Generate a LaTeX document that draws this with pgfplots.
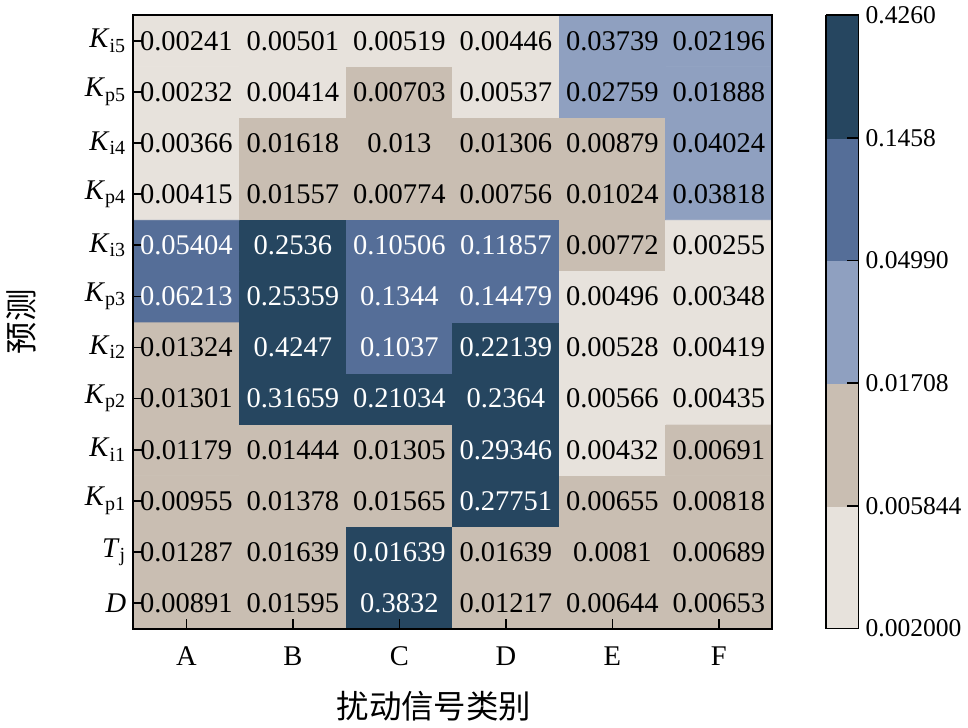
\documentclass[border=0pt]{standalone}
\usepackage{fontspec}
\setmainfont{Liberation Serif}
\newfontfamily\cjk{Noto Sans CJK SC}
\usepackage{pgfplots}
\usepackage{pgfplotstable}
\pgfplotsset{compat=1.18}

\pgfplotstableread{
x y c v
0 0 1 0.00891
1 0 1 0.01595
2 0 4 0.3832
3 0 1 0.01217
4 0 1 0.00644
5 0 1 0.00653
0 1 1 0.01287
1 1 1 0.01639
2 1 4 0.01639
3 1 1 0.01639
4 1 1 0.0081
5 1 1 0.00689
0 2 1 0.00955
1 2 1 0.01378
2 2 1 0.01565
3 2 4 0.27751
4 2 1 0.00655
5 2 1 0.00818
0 3 1 0.01179
1 3 1 0.01444
2 3 1 0.01305
3 3 4 0.29346
4 3 0 0.00432
5 3 1 0.00691
0 4 1 0.01301
1 4 4 0.31659
2 4 4 0.21034
3 4 4 0.2364
4 4 0 0.00566
5 4 0 0.00435
0 5 1 0.01324
1 5 4 0.4247
2 5 3 0.1037
3 5 4 0.22139
4 5 0 0.00528
5 5 0 0.00419
0 6 3 0.06213
1 6 4 0.25359
2 6 3 0.1344
3 6 3 0.14479
4 6 0 0.00496
5 6 0 0.00348
0 7 3 0.05404
1 7 4 0.2536
2 7 3 0.10506
3 7 3 0.11857
4 7 1 0.00772
5 7 0 0.00255
0 8 0 0.00415
1 8 1 0.01557
2 8 1 0.00774
3 8 1 0.00756
4 8 1 0.01024
5 8 2 0.03818
0 9 0 0.00366
1 9 1 0.01618
2 9 1 0.013
3 9 1 0.01306
4 9 1 0.00879
5 9 2 0.04024
0 10 0 0.00232
1 10 0 0.00414
2 10 1 0.00703
3 10 0 0.00537
4 10 2 0.02759
5 10 2 0.01888
0 11 0 0.00241
1 11 0 0.00501
2 11 0 0.00519
3 11 0 0.00446
4 11 2 0.03739
5 11 2 0.02196
}\datatable

\begin{document}
\begin{tikzpicture}
\begin{axis}[
  scale only axis,
  width=325pt, height=312pt,
  xmin=-0.5, xmax=5.5, ymin=-0.5, ymax=11.5,
  enlargelimits=false,
  axis on top,
  axis line style={line width=0.9pt},
  xtick={0,...,5},
  xticklabels={A,B,C,D,E,F},
  ytick={0,...,11},
  yticklabels={\textit{D},\textit{T}\textsubscript{j},\textit{K}\textsubscript{p1},\textit{K}\textsubscript{i1},\textit{K}\textsubscript{p2},\textit{K}\textsubscript{i2},\textit{K}\textsubscript{p3},\textit{K}\textsubscript{i3},\textit{K}\textsubscript{p4},\textit{K}\textsubscript{i4},\textit{K}\textsubscript{p5},\textit{K}\textsubscript{i5}},
  xtick pos=lower, ytick pos=left,
  tick align=inside,
  major tick length=5pt,
  tick style={black, line width=0.8pt},
  ticklabel style={font=\fontsize{14.5}{17}\selectfont},
  xticklabel style={yshift=-5.5pt},
  every axis y label/.style={at={(axis description cs:-0.175,0.5)}, rotate=90, anchor=center},
  every axis x label/.style={at={(axis description cs:0.5,0)}, anchor=center, yshift=-39.5pt, xshift=-9.5pt},
  xlabel={\cjk\fontsize{16.5}{19}\selectfont 扰动信号类别},
  ylabel={\cjk\fontsize{16.5}{19}\selectfont 预测},
  colormap={disc}{rgb255=(231,226,220) rgb255=(201,190,178) rgb255=(143,160,192) rgb255=(85,110,152) rgb255=(38,70,96)},
  colormap access=piecewise constant,
  point meta min=0, point meta max=5,
  colorbar sampled,
  colorbar style={
    samples=6,
    at={(parent axis.north east)}, anchor=north west, xshift=19pt,
    width=16.5pt,
    axis line style={line width=0.8pt},
    ytick={0,...,5},
    yticklabels={0.002000,0.005844,0.01708,0.04990,0.1458,0.4260},
    ytick pos=right, yticklabel pos=right,
    tick align=inside,
    major tick length=6pt,
    tick style={black, line width=0.8pt},
    yticklabel style={font=\fontsize{13}{15}\selectfont},
  },
]
\addplot[matrix plot*, mesh/cols=6, mesh/rows=12, point meta=explicit] table[x=x, y=y, meta expr=\thisrow{c}+0.5] {\datatable};
\addplot[draw=none, point meta=explicit symbolic,
  visualization depends on={\thisrow{c}\as\cls},
  nodes near coords={\ifdim\cls pt>2.5pt \color{white}\fi\pgfplotspointmeta},
  nodes near coords align=center,
  every node near coord/.append style={font=\fontsize{14.5}{17}\selectfont, inner sep=0pt},
] table[x=x, y=y, meta=v] {\datatable};
\end{axis}
\end{tikzpicture}
\end{document}
